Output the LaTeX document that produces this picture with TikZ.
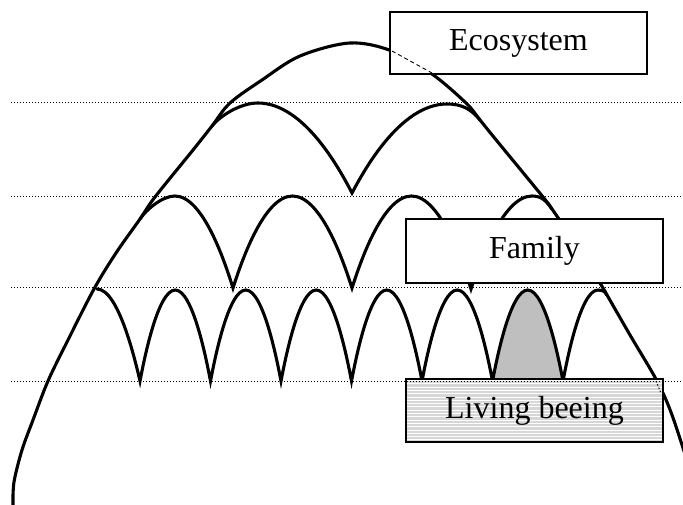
\documentclass[tikz,border=0pt]{standalone}
\usepackage{fontspec}
\setmainfont{Liberation Serif}
\begin{document}
\begin{tikzpicture}[x=1pt,y=-1pt,
  arch/.style={line width=3.1pt, line join=miter, line cap=round},
  guide/.style={line width=1pt, dash pattern=on 1pt off 2pt},
  labelbox/.style={draw, line width=1.4pt, fill=white, minimum width=257pt,
    inner sep=0pt, font=\fontsize{32}{38}\selectfont},
  hatchbox/.style={labelbox, fill=gray!32,
    path picture={\foreach \k in {0,...,20}
      \draw[white, line width=0.9pt]
        ([yshift=-\k*3.3pt-1.5pt]path picture bounding box.north west) --
        ([yshift=-\k*3.3pt-1.5pt]path picture bounding box.north east);}},
  artefact/.style={line width=0.9pt, dash pattern=on 4pt off 3pt}]
\useasboundingbox (0,0) rectangle (683,505);

% shaded living being
\fill[gray!50] (492.5,381) parabola bend (527.75,290) (563,381) -- cycle;

% big ecosystem curve
\draw[arch] plot[smooth, tension=0.55] coordinates {
  (13,505) (14,482) (22,450) (33,420) (48,381) (68,340) (94,289) (116,253)
  (140,219) (155,197) (193,150) (212,126) (230,103) (262,80) (300,56) (350,43)
  (392,51) (432,74) (466,103) (480,120) (497,141) (543,197) (552,209) (575,243)
  (603,288) (607,295) (630,335) (657,381) (672,415) (690,470)};

% level 2 (families inside ecosystem)
\draw[arch] (212,126) .. controls (220,116) and (240,103) .. (258,103)
  parabola (352,193) parabola[bend at end] (447,104)
  .. controls (462,104) and (471,109) .. (480,120);

% level 3
\draw[arch] (140,219) .. controls (146,210) and (162,196) .. (175,196)
  parabola (233,288)
  parabola bend (292.5,196) (352,288)
  parabola bend (411.5,196) (471,289)
  parabola[bend at end] (532,196)
  .. controls (542,196) and (546,201) .. (552,209);

% level 4
\draw[arch] (97,289) parabola (140,381)
  parabola bend (175.25,290) (210.5,381)
  parabola bend (245.75,290) (281,381)
  parabola bend (316.25,290) (351.5,381)
  parabola bend (386.75,290) (422,381)
  parabola bend (457.25,290) (492.5,381)
  parabola bend (527.75,290) (563,381)
  parabola[bend at end] (598,290)
  .. controls (601,290) and (604,290) .. (607,295);

% boxes
\node[labelbox, minimum height=62pt] (eco) at (518.5,43) {Ecosystem};
\node[labelbox, minimum height=64pt] (fam) at (534.5,251) {Family};
\node[hatchbox, minimum height=63pt] (liv) at (534.5,410.5) {Living beeing};

% visible traces of the curve behind boxes
\coordinate (t1) at (392,51);
\coordinate (t2) at (432,73);
\draw[artefact] (t1) -- (t2);
\coordinate (t3) at (656,381);
\coordinate (t4) at (661,393);
\draw[artefact, dash pattern=on 1.5pt off 2pt] (t3) -- (t4);

% dotted level lines
\foreach \yy/\nm in {103/ga,197/gb,288/gc,381/gd}{
  \coordinate (\nm l) at (11,\yy);
  \coordinate (\nm r) at (683,\yy);
  \draw[guide] (\nm l) -- (\nm r);
}
\end{tikzpicture}
\end{document}
